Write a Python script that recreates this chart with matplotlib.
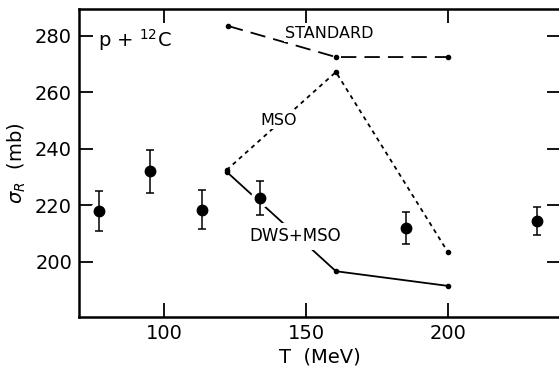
import matplotlib

matplotlib.use("Agg")
import matplotlib.pyplot as plt

# measured reaction cross sections
T_data = [77, 95, 113.4, 133.6, 185.2, 231.3]
sigma_data = [218, 232, 218.5, 222.5, 212, 214.5]
sigma_err = [7, 7.5, 7, 6, 5.5, 5]

# calculations
T_calc = [122.5, 160.5, 200]
sigma_standard = [283.5, 272.5, 272.5]
T_mso = [122, 160.5, 200]
sigma_mso = [232.5, 267.2, 203.4]
sigma_dws_mso = [231.9, 196.7, 191.5]

plt.rcParams["font.family"] = ["DejaVu Sans"]
plt.rcParams["font.size"] = 12

fig = plt.figure(figsize=(5.59, 3.66), dpi=100)
ax = fig.add_axes([0.1413, 0.1339, 0.8623, 0.8415])

ax.plot(T_calc, sigma_standard, color="black", lw=1.3, ls=(0, (8.5, 4.5)),
        marker="o", ms=3, zorder=2)
ax.plot(T_mso, sigma_mso, color="black", lw=1.3, ls=(0, (2.3, 2.3)),
        marker="o", ms=3, zorder=2)
ax.plot(T_mso, sigma_dws_mso, color="black", lw=1.3, marker="o", ms=3,
        zorder=2)

# white halo so the curves break around the data points
ax.plot(T_data, sigma_data, "o", color="white", ms=13, zorder=3)
ax.errorbar(T_data, sigma_data, yerr=sigma_err, fmt="none", ecolor="black",
            elinewidth=1.1, capsize=3, capthick=1.1, zorder=4)
ax.plot(T_data, sigma_data, "o", color="black", ms=7.5, zorder=5)

box = dict(facecolor="white", edgecolor="none", pad=1)
ax.text(158.3, 281, "STANDARD", ha="center", va="center", fontsize=11.5,
        bbox=box, zorder=4)
ax.text(140.3, 250.2, "MSO", ha="center", va="center", fontsize=11.5,
        bbox=box, zorder=4)
ax.text(146, 209, "DWS+MSO", ha="center", va="center", fontsize=12,
        bbox=dict(facecolor="white", edgecolor="none", pad=3), zorder=4)
ax.text(89.8, 278.5, r"p + $^{12}$C", ha="center", va="center", fontsize=14)

ax.set_xlim(70, 239.8)
ax.set_ylim(180.5, 289.5)
ax.set_xticks([100, 150, 200])
ax.set_yticks([200, 220, 240, 260, 280])
ax.tick_params(direction="in", length=10, width=1.3, top=True, right=True,
               labelsize=14, pad=5)
for spine in ax.spines.values():
    spine.set_linewidth(1.8)

ax.set_xlabel("T  (MeV)", fontsize=14, labelpad=3)
ax.set_ylabel(r"$\sigma_R$  (mb)", fontsize=14, labelpad=5)

fig.savefig("out.png", dpi=100)
